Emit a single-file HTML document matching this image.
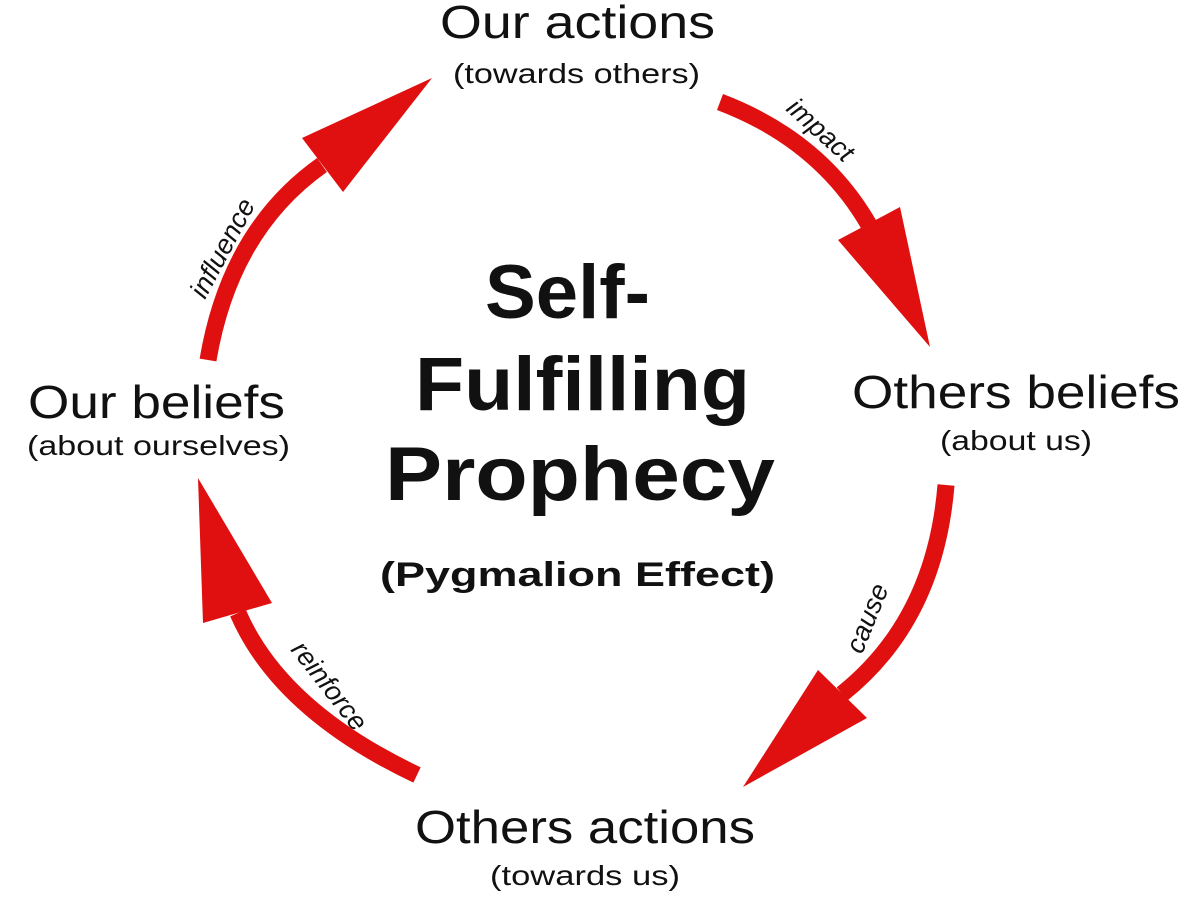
<!DOCTYPE html>
<html><head><meta charset="utf-8"><style>
html,body{margin:0;padding:0;background:#fff;}
svg{display:block;}
text{font-family:"Liberation Sans",sans-serif;fill:#111;}
</style></head><body>
<svg width="1200" height="900" viewBox="0 0 1200 900">
<g fill="none" stroke="#e01010" stroke-linecap="butt">
<path d="M208,360 Q230,230 322,165" stroke-width="17"/>
<path d="M720,102 Q820,140 869,225" stroke-width="17"/>
<path d="M946,485 Q935,620 842,694" stroke-width="17"/>
<path d="M417,775 Q280,710 238,613" stroke-width="17"/>
</g>
<g fill="#e01010">
<polygon points="432,78 302,138 343,192"/>
<polygon points="930,347 838,240 900,207"/>
<polygon points="743,787 818,670 867,718"/>
<polygon points="198,478 203,623 272,603"/>
</g>
<g>
<text x="440" y="38" font-size="46" textLength="275" lengthAdjust="spacingAndGlyphs">Our actions</text>
<text x="453" y="83" font-size="28" textLength="247" lengthAdjust="spacingAndGlyphs">(towards others)</text>
<text x="852" y="408" font-size="46" textLength="328" lengthAdjust="spacingAndGlyphs">Others beliefs</text>
<text x="940" y="450" font-size="28" textLength="152" lengthAdjust="spacingAndGlyphs">(about us)</text>
<text x="28" y="418" font-size="46" textLength="257" lengthAdjust="spacingAndGlyphs">Our beliefs</text>
<text x="27" y="455" font-size="28" textLength="263" lengthAdjust="spacingAndGlyphs">(about ourselves)</text>
<text x="415" y="843" font-size="46" textLength="340" lengthAdjust="spacingAndGlyphs">Others actions</text>
<text x="490" y="885" font-size="28" textLength="190" lengthAdjust="spacingAndGlyphs">(towards us)</text>
<text x="485" y="318" font-size="76" font-weight="bold" textLength="165" lengthAdjust="spacingAndGlyphs">Self-</text>
<text x="415" y="410" font-size="76" font-weight="bold" textLength="335" lengthAdjust="spacingAndGlyphs">Fulfilling</text>
<text x="385" y="500" font-size="76" font-weight="bold" textLength="390" lengthAdjust="spacingAndGlyphs">Prophecy</text>
<text x="380" y="586" font-size="34" font-weight="bold" textLength="395" lengthAdjust="spacingAndGlyphs">(Pygmalion Effect)</text>
<text font-size="27" font-style="italic" transform="translate(785,110) rotate(42)">impact</text>
<text font-size="27" font-style="italic" transform="translate(205,300) rotate(-62)">influence</text>
<text font-size="27" font-style="italic" transform="translate(862,655) rotate(-68)">cause</text>
<text font-size="27" font-style="italic" transform="translate(290,650) rotate(52)">reinforce</text>
</g>
</svg>
</body></html>
